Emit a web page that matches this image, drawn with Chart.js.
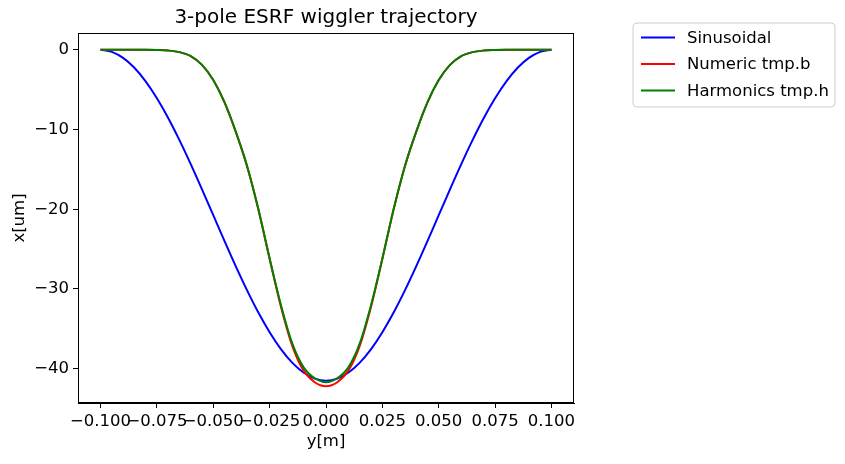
<!DOCTYPE html>
<html>
<head>
<meta charset="utf-8">
<script src="https://cdn.jsdelivr.net/npm/chart.js@4"></script>
<style>
  html, body { margin: 0; padding: 0; background: #fff; }
  #wrap { width: 845px; height: 464px; }
</style>
</head>
<body>
<div id="wrap"><canvas id="trajectory"></canvas></div>
<script>
// Position along the wiggler, y[m]
var yPos = [-0.100, -0.095, -0.090, -0.085, -0.080, -0.075, -0.070, -0.065, -0.060, -0.055,
            -0.050, -0.045, -0.040, -0.035, -0.030, -0.025, -0.020, -0.015, -0.010, -0.005,
             0.000,  0.005,  0.010,  0.015,  0.020,  0.025,  0.030,  0.035,  0.040,  0.045,
             0.050,  0.055,  0.060,  0.065,  0.070,  0.075,  0.080,  0.085,  0.090,  0.095, 0.100];

// Trajectory x[um]
var sinusoidal = [0, -0.26, -1.02, -2.26, -3.96, -6.08, -8.55, -11.33, -14.34, -17.50,
                  -20.75, -24.00, -27.16, -30.17, -32.95, -35.42, -37.54, -39.24, -40.48, -41.24,
                  -41.5,
                  -41.24, -40.48, -39.24, -37.54, -35.42, -32.95, -30.17, -27.16, -24.00, -20.75,
                  -17.50, -14.34, -11.33, -8.55, -6.08, -3.96, -2.26, -1.02, -0.26, 0];
var numeric = [0, 0, 0, 0, 0, -0.03, -0.1, -0.3, -0.8, -1.9,
               -3.8, -6.6, -10.3, -14.6, -20.0, -26.2, -32.2, -37.1, -40.2, -41.7,
               -42.2,
               -41.7, -40.2, -37.1, -32.2, -26.2, -20.0, -14.6, -10.3, -6.6, -3.8,
               -1.9, -0.8, -0.3, -0.1, -0.03, 0, 0, 0, 0, 0];
var harmonics = [0, 0, 0, 0, 0, -0.03, -0.1, -0.3, -0.8, -1.9,
                 -3.8, -6.6, -10.3, -14.6, -20.0, -26.2, -32.0, -36.8, -39.8, -41.2,
                 -41.7,
                 -41.2, -39.8, -36.8, -32.0, -26.2, -20.0, -14.6, -10.3, -6.6, -3.8,
                 -1.9, -0.8, -0.3, -0.1, -0.03, 0, 0, 0, 0, 0];

var xTicks = [-0.1, -0.075, -0.05, -0.025, 0, 0.025, 0.05, 0.075, 0.1];
var yTicks = [0, -10, -20, -30, -40];

var FONT = "'DejaVu Sans', sans-serif";

function pts(vals) {
    return yPos.map(function (p, i) { return { x: p, y: vals[i] }; });
}
function minus(s) { return String(s).replace('-', '\u2212'); }

// frame, title and legend the matplotlib way
var decor = {
    id: 'decor',
    afterDraw: function (chart) {
        var ctx = chart.ctx, a = chart.chartArea;
        ctx.save();
        ctx.strokeStyle = '#000';
        ctx.lineWidth = 1;
        ctx.strokeRect(Math.round(a.left) + 0.5, Math.round(a.top) + 0.5,
                       Math.round(a.right - a.left) - 1, Math.round(a.bottom - a.top) - 1);

        ctx.fillStyle = '#000';
        ctx.font = '20px ' + FONT;
        ctx.textAlign = 'center';
        ctx.textBaseline = 'middle';
        ctx.fillText('3-pole ESRF wiggler trajectory', (a.left + a.right) / 2, 18);

        // legend
        var bx = 633, by = 23, bw = 202, bh = 84, r = 4;
        ctx.beginPath();
        ctx.moveTo(bx + r, by);
        ctx.arcTo(bx + bw, by, bx + bw, by + bh, r);
        ctx.arcTo(bx + bw, by + bh, bx, by + bh, r);
        ctx.arcTo(bx, by + bh, bx, by, r);
        ctx.arcTo(bx, by, bx + bw, by, r);
        ctx.closePath();
        ctx.fillStyle = 'rgba(255,255,255,0.8)';
        ctx.fill();
        ctx.strokeStyle = '#cccccc';
        ctx.stroke();

        ctx.font = '16.5px ' + FONT;
        ctx.textAlign = 'left';
        chart.data.datasets.forEach(function (ds, i) {
            var ly = 37.5 + i * 26.5;
            ctx.beginPath();
            ctx.moveTo(641, ly);
            ctx.lineTo(675, ly);
            ctx.strokeStyle = ds.borderColor;
            ctx.lineWidth = 2;
            ctx.stroke();
            ctx.fillStyle = '#000';
            ctx.fillText(ds.label, 687, ly + 1);
        });
        ctx.restore();
    }
};

new Chart(document.getElementById('trajectory'), {
    type: 'line',
    data: {
        datasets: [
            { label: 'Sinusoidal', data: pts(sinusoidal), borderColor: '#0000ff', order: 3 },
            { label: 'Numeric tmp.b', data: pts(numeric), borderColor: '#ff0000', order: 2 },
            { label: 'Harmonics tmp.h', data: pts(harmonics), borderColor: '#008000', order: 1 }
        ]
    },
    options: {
        responsive: true,
        maintainAspectRatio: false,
        animation: false,
        layout: { padding: { left: 0, right: 271, top: 33, bottom: 0 } },
        elements: {
            point: { radius: 0 },
            line: { borderWidth: 2, cubicInterpolationMode: 'monotone', fill: false }
        },
        plugins: {
            legend: { display: false },
            title: { display: false },
            tooltip: { enabled: false }
        },
        scales: {
            x: {
                type: 'linear',
                min: -0.11,
                max: 0.11,
                afterBuildTicks: function (s) { s.ticks = xTicks.map(function (v) { return { value: v }; }); },
                afterFit: function (s) { s.height = 61; },
                ticks: {
                    autoSkip: false,
                    maxRotation: 0,
                    padding: 4,
                    color: '#000',
                    font: { size: 16.5, family: FONT },
                    callback: function (v) { return minus(Number(v).toFixed(3)); }
                },
                grid: { drawOnChartArea: false, drawTicks: true, tickLength: 5, color: '#000' },
                border: { display: true, color: '#000' },
                title: {
                    display: true,
                    text: 'y[m]',
                    color: '#000',
                    padding: { top: 0, bottom: 12 },
                    font: { size: 16.5, family: FONT }
                }
            },
            y: {
                type: 'linear',
                min: -44.3,
                max: 2.1,
                afterBuildTicks: function (s) { s.ticks = yTicks.map(function (v) { return { value: v }; }); },
                afterFit: function (s) { s.width = 78; },
                ticks: {
                    padding: 4,
                    color: '#000',
                    font: { size: 16.5, family: FONT },
                    callback: function (v) { return minus(v); }
                },
                grid: { drawOnChartArea: false, drawTicks: true, tickLength: 5, color: '#000' },
                border: { display: true, color: '#000' },
                title: {
                    display: true,
                    text: 'x[um]',
                    color: '#000',
                    padding: { top: 10, bottom: 0 },
                    font: { size: 16.5, family: FONT }
                }
            }
        }
    },
    plugins: [decor]
});
</script>
</body>
</html>
